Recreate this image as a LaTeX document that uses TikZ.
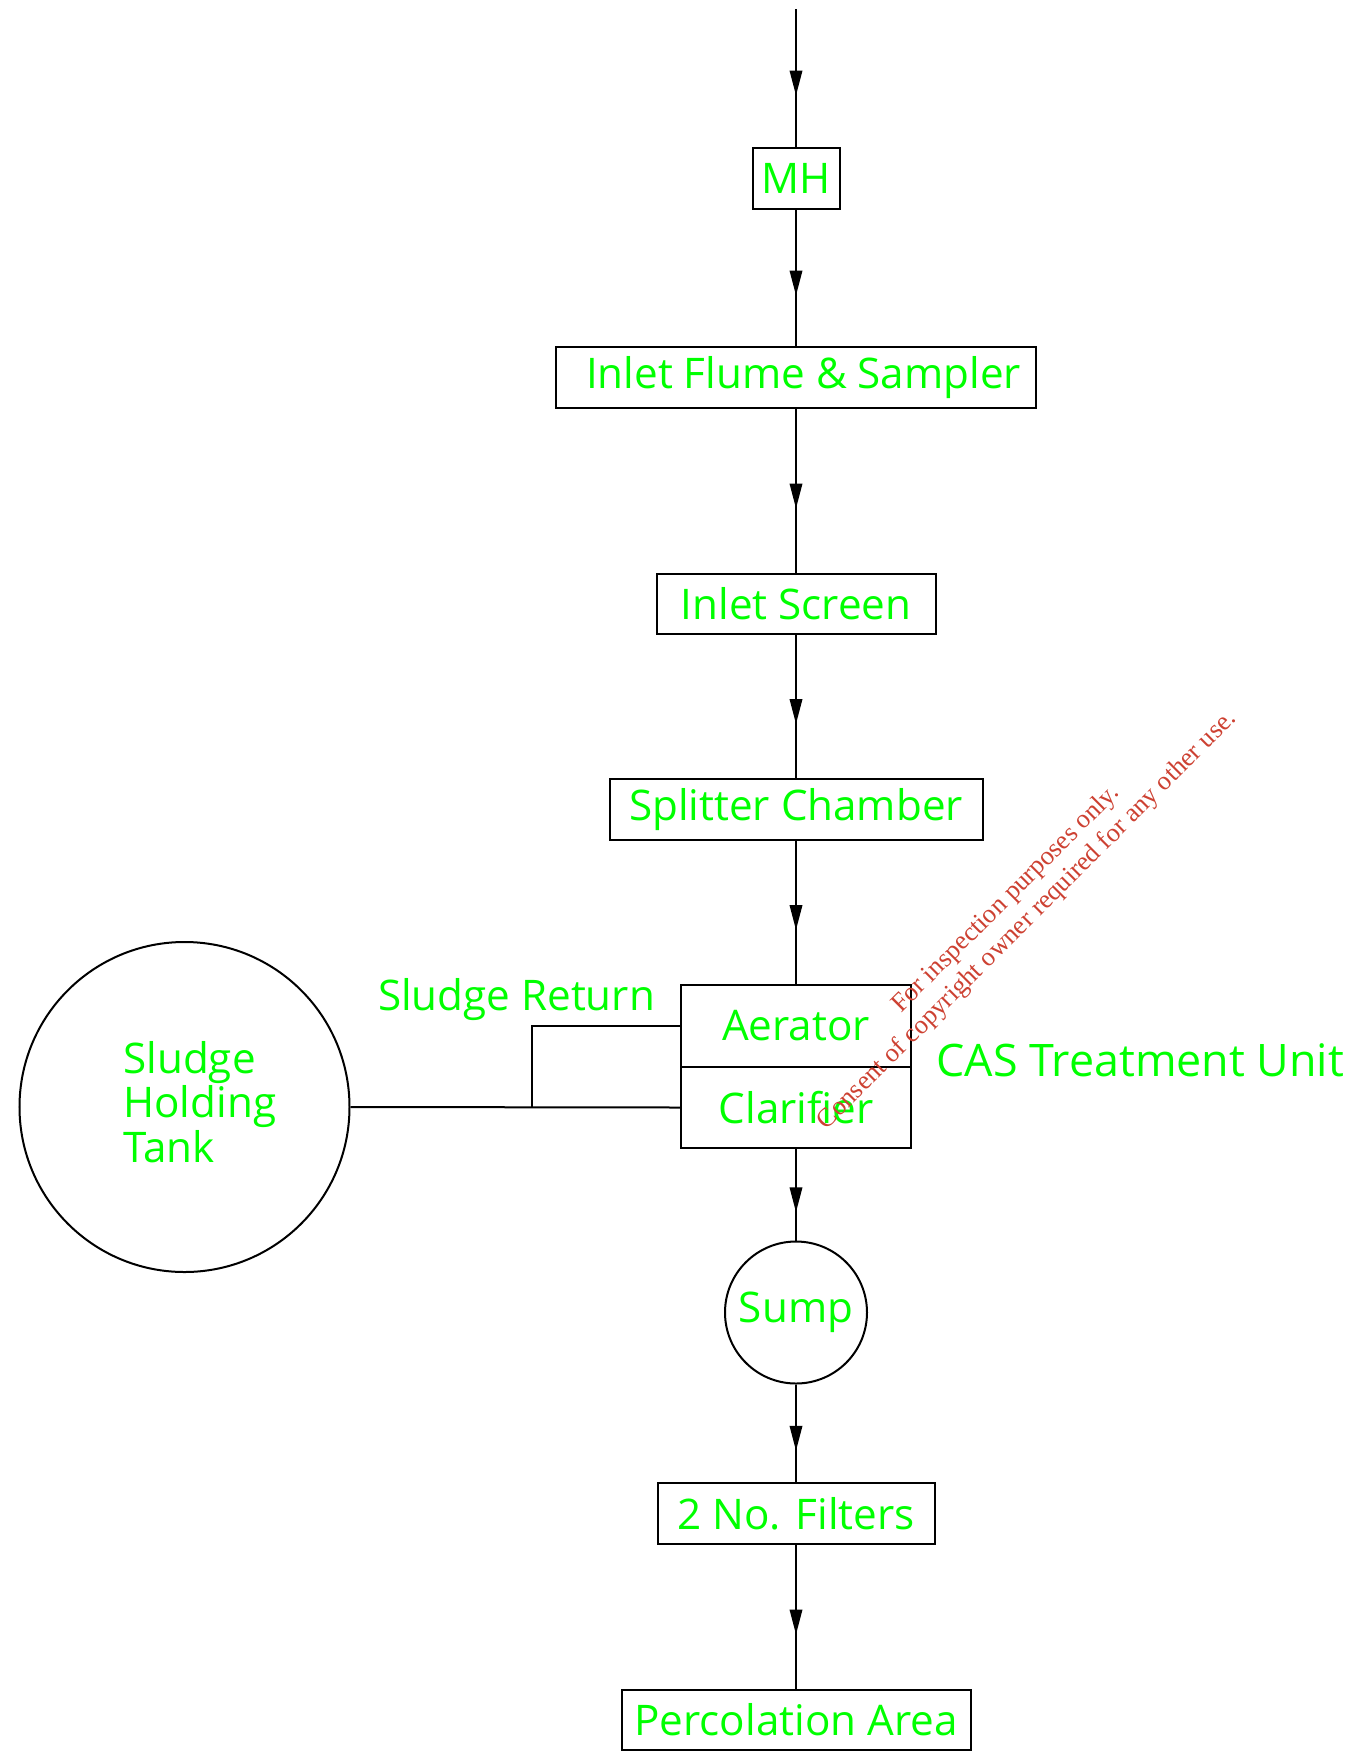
\documentclass[tikz,border=0pt]{standalone}
\usepackage{fontspec}
\setmainfont{Open Sans}
\newfontfamily\stampfont{Liberation Serif}
\usetikzlibrary{arrows.meta,decorations.markings}
\definecolor{labelgreen}{RGB}{0,255,0}
\definecolor{stampred}{RGB}{205,65,50}

\begin{document}
\begin{tikzpicture}[x=0.2mm,y=-0.2mm,
    unit/.style={draw,line width=0.4mm,text=labelgreen,font=\fontsize{24}{28}\selectfont,inner sep=0pt},
    tag/.style={text=labelgreen,font=\fontsize{24}{28}\selectfont,inner sep=0pt},
    pipe/.style={line width=0.4mm},
    flow/.style={pipe,postaction={decorate},
      decoration={markings,mark=at position .5 with {\arrow[xshift=3.5mm]{Triangle[length=5mm,width=2.5mm]}}}}]
  \useasboundingbox (0,0) rectangle (1357,1751);

  % main stream
  \coordinate (inflow) at (796,9);
  \node[unit,minimum width=17.4mm,minimum height=12.2mm] (mh) at (796,178.5) {MH};
  \node[unit,minimum width=96mm,minimum height=12.2mm] (flume) at (796,377.5) {\hspace*{3mm}Inlet Flume \& Sampler};
  \node[unit,minimum width=55.8mm,minimum height=12mm] (screen) at (796,604) {Inlet Screen};
  \node[unit,minimum width=74.6mm,minimum height=12.2mm] (split) at (796,809.5) {Splitter Chamber};
  \node[unit,minimum width=46mm,minimum height=16.4mm] (aer) at (796,1026) {Aerator};
  \node[unit,minimum width=46mm,minimum height=16.2mm] (cla) at (796,1107.5) {Clarifier};
  \node[unit,circle,minimum size=28.4mm] (sump) at (796,1312.5) {Sump};
  \node[unit,minimum width=55.4mm,minimum height=12.2mm] (filt) at (796,1513.5) {2 No. Filters};
  \node[unit,minimum width=69.8mm,minimum height=12mm] (perc) at (796,1720) {Percolation Area};

  \draw[flow] (inflow) -- (mh.north);
  \draw[flow] (mh.south) -- (flume.north);
  \draw[flow] (flume.south) -- (screen.north);
  \draw[flow] (screen.south) -- (split.north);
  \draw[flow] (split.south) -- (aer.north);
  \draw[flow] (cla.south) -- (sump.north);
  \draw[flow] (sump.south) -- (filt.north);
  \draw[flow] (filt.south) -- (perc.north);

  % sludge side
  \node[unit,circle,minimum size=66mm] (tank) at (184.5,1107) {};
  \node[tag,align=left,anchor=west,font=\fontsize{24}{25.3}\selectfont] (tanklabel) at (123,1102) {Sludge\\Holding\\Tank};
  \coordinate (ret) at (532,1107.5);
  \draw[pipe] (tank.east) -- (cla.west);
  \draw[pipe] (aer.west) -| (ret);
  \node[tag] (retlabel) at (516.5,1000) {Sludge Return};
  \node[tag,anchor=west,font=\fontsize{25.5}{28}\selectfont] (cas) at (936,1060) {CAS Treatment Unit};

  % stamp
  \node[rotate=45,text=stampred,align=center,inner sep=0pt,
    font=\stampfont\fontsize{15}{17}\selectfont] (stamp) at (1017,910)
    {For inspection purposes only.\\Consent of copyright owner required for any other use.};
\end{tikzpicture}
\end{document}
